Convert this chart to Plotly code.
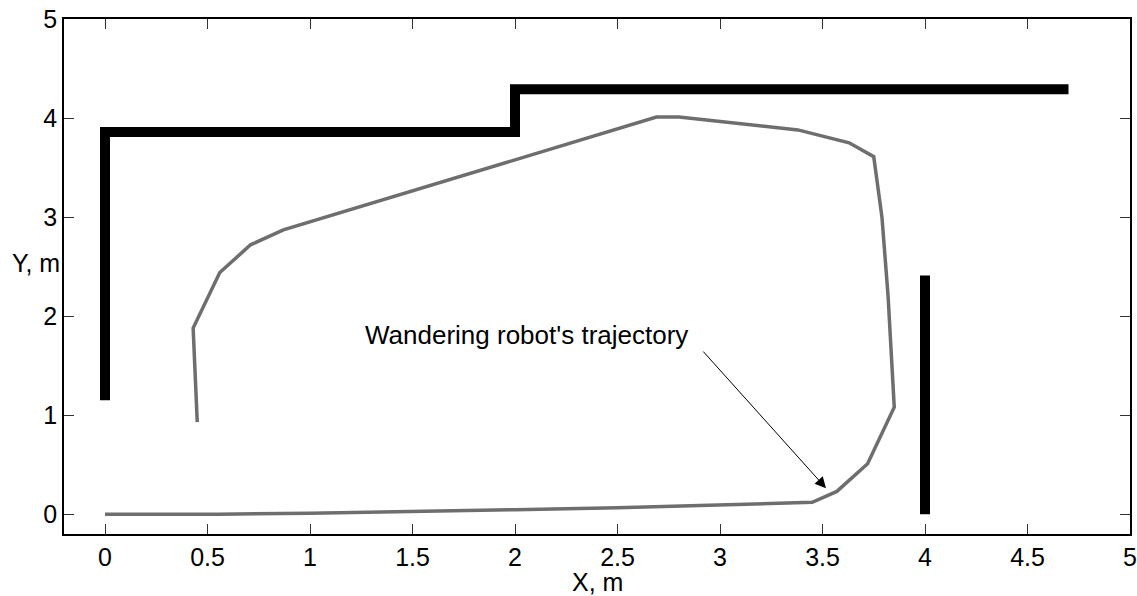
import plotly.graph_objects as go

# Walls (black thick lines)
wall1_x = [0, 0, 2, 2, 4.7]
wall1_y = [1.15, 3.86, 3.86, 4.29, 4.29]
wall2_x = [4, 4]
wall2_y = [0, 2.41]

# Wandering robot trajectory
traj_x = [0, 0.55, 1.0, 1.5, 2.0, 2.5, 3.0, 3.4, 3.45, 3.57, 3.72, 3.85, 3.82, 3.79,
          3.75, 3.63, 3.38, 2.80, 2.69, 0.87, 0.71, 0.56, 0.43, 0.45]
traj_y = [0, 0.0, 0.01, 0.025, 0.045, 0.065, 0.09, 0.115, 0.12, 0.23, 0.51, 1.08, 2.2, 3.0,
          3.61, 3.75, 3.88, 4.01, 4.01, 2.87, 2.72, 2.44, 1.88, 0.93]

x_ticks = [0, 0.5, 1, 1.5, 2, 2.5, 3, 3.5, 4, 4.5, 5]
x_tick_text = ["0", "0.5", "1", "1.5", "2", "2.5", "3", "3.5", "4", "4.5", "5"]
y_ticks = [0, 1, 2, 3, 4, 5]

FONT = "Liberation Sans, Arial, sans-serif"
FS = 25

fig = go.Figure()
fig.add_trace(go.Scatter(x=wall1_x, y=wall1_y, mode="lines",
                         line=dict(color="black", width=10), showlegend=False))
fig.add_trace(go.Scatter(x=wall2_x, y=wall2_y, mode="lines",
                         line=dict(color="black", width=10), showlegend=False))
fig.add_trace(go.Scatter(x=traj_x, y=traj_y, mode="lines",
                         line=dict(color="#6e6e6e", width=3.5), showlegend=False))

fig.add_annotation(x=3.517, y=0.263, ax=2.912, ay=1.657, xref="x", yref="y",
                   axref="x", ayref="y", text="", showarrow=True,
                   arrowhead=2, arrowsize=2.2, arrowwidth=1, arrowcolor="black")
fig.add_annotation(x=2.054, y=1.81, xref="x", yref="y", text="Wandering robot's trajectory",
                   showarrow=False, xanchor="center", yanchor="middle",
                   font=dict(family=FONT, size=26, color="black"))
fig.add_annotation(x=-0.0267, y=0.526, xref="paper", yref="paper", text="Y, m",
                   showarrow=False, xanchor="center", yanchor="middle",
                   font=dict(family=FONT, size=FS, color="black"))
fig.add_annotation(x=0.5, y=-0.094, xref="paper", yref="paper", text="X, m",
                   showarrow=False, xanchor="center", yanchor="middle",
                   font=dict(family=FONT, size=FS, color="black"))

fig.update_layout(
    width=1137, height=596,
    margin=dict(l=64, r=7, t=19, b=62, autoexpand=False),
    paper_bgcolor="white", plot_bgcolor="white",
    font=dict(family=FONT, size=FS, color="black"),
    xaxis=dict(range=[-0.2, 5], tickvals=x_ticks, ticktext=x_tick_text,
               ticks="inside", ticklen=10, tickwidth=1, tickcolor="#333",
               showline=True, linecolor="black", linewidth=1.5, mirror="ticks",
               showgrid=False, zeroline=False, ticklabeloverflow="allow",
               automargin=False),
    yaxis=dict(range=[-0.2, 5], tickvals=y_ticks,
               ticks="inside", ticklen=10, tickwidth=1, tickcolor="#333",
               showline=True, linecolor="black", linewidth=1.5, mirror="ticks",
               showgrid=False, zeroline=False, ticklabeloverflow="allow",
               automargin=False),
)

# remove the page's default 8px body margin so the figure fills the window exactly
fig.write_html("out.html", config={"displayModeBar": False},
               post_script="document.body.style.margin='0';document.body.style.overflow='hidden';")
